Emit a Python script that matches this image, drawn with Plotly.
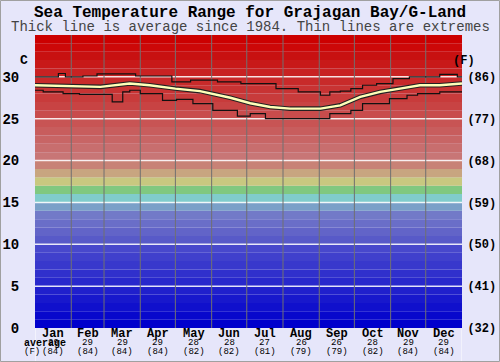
import plotly.graph_objects as go

# ---------------- data ----------------
months = ["Jan", "Feb", "Mar", "Apr", "May", "Jun", "Jul", "Aug", "Sep", "Oct", "Nov", "Dec"]
month_days = [31, 28, 31, 30, 31, 30, 31, 31, 30, 31, 30, 31]
avg_c = [29, 29, 29, 29, 28, 28, 27, 26, 26, 28, 29, 29]
avg_f = [84, 84, 84, 84, 82, 82, 81, 79, 79, 82, 84, 84]

avg_day = [0, 21, 56, 81, 98, 120, 141, 167, 184, 201, 218, 244, 261, 278, 295, 312, 329, 346, 365]
avg_temp = [29.0, 28.9, 28.8, 29.2, 29.0, 28.6, 28.3, 27.5, 26.85, 26.4, 26.2, 26.2, 26.6, 27.6, 28.2, 28.6, 29.0, 29.0, 29.2]

max_day = [0, 20, 26, 41, 53, 86, 117, 133, 156, 176, 206, 225, 244, 252, 261, 270, 280, 292, 306, 320, 346, 361, 365]
max_temp = [30.0, 30.4, 30.0, 30.1, 30.35, 30.1, 29.4, 29.6, 29.4, 29.2, 28.6, 28.2, 27.8, 28.2, 28.3, 28.6, 29.0, 29.2, 29.8, 30.0, 30.3, 30.0, 30.0]

min_day = [0, 7, 24, 38, 66, 75, 81, 90, 109, 121, 135, 152, 173, 184, 197, 252, 270, 280, 303, 318, 327, 346, 365]
min_temp = [28.4, 28.2, 28.0, 27.9, 27.0, 28.2, 28.4, 28.0, 27.2, 27.3, 26.8, 26.0, 25.3, 25.6, 25.0, 25.6, 26.0, 26.8, 27.4, 27.8, 28.0, 28.2, 28.2]

c_ticks = [0, 5, 10, 15, 20, 25, 30]
f_ticks = ["(32)", "(41)", "(50)", "(59)", "(68)", "(77)", "(86)"]

# ---------------- styles ----------------
MONO = "Liberation Mono, Courier New, monospace"
BG = "#e6e6fa"


def band_color(i):
    if i <= 9:
        v = i * 8
        return f"rgb({v},{v},204)"
    extra = {10: (88, 90, 200), 11: (98, 100, 200), 12: (106, 110, 200), 13: (114, 122, 200),
             14: (122, 160, 200), 15: (128, 204, 204), 16: (128, 200, 128), 17: (200, 200, 128),
             18: (200, 165, 128), 19: (200, 130, 118)}
    if i in extra:
        r, g, b = extra[i]
        return f"rgb({r},{g},{b})"
    g = round(118 * (34 - i) / 14)
    r = 200 if i < 33 else 204
    return f"rgb({r},{g},{g})"


fig = go.Figure()

shapes = []
for i in range(35):
    shapes.append(dict(type="rect", xref="x", yref="y", x0=0, x1=365, y0=i, y1=i + 1,
                       fillcolor=band_color(i), line=dict(width=0), layer="below"))
for t in c_ticks[1:]:
    shapes.append(dict(type="line", xref="x", yref="y", x0=0, x1=365, y0=t, y1=t,
                       line=dict(color="rgba(255,255,255,0.85)", width=1.5), layer="below"))
cum = 0
mids = []
for d in month_days:
    mids.append(cum + d / 2)
    cum += d
    if cum < 365:
        shapes.append(dict(type="line", xref="x", yref="y", x0=cum, x1=cum, y0=0, y1=35,
                           line=dict(color="#707070", width=1), layer="below"))
# table borders below plot
for xv in (0, 365):
    shapes.append(dict(type="line", xref="x", yref="paper", x0=xv, x1=xv, y0=0, y1=-0.12,
                       line=dict(color="white", width=1)))
# outer border
shapes.append(dict(type="rect", xref="paper", yref="paper", x0=-34.5 / 427, x1=464.5 / 427,
                   y0=-33.5 / 293, y1=327.5 / 293, line=dict(color="#a0a0a0", width=1)))

# extremes
fig.add_trace(go.Scatter(x=max_day, y=max_temp, mode="lines", line=dict(color="#111", width=1.2, shape="hv"),
                         hoverinfo="skip", showlegend=False))
fig.add_trace(go.Scatter(x=min_day, y=min_temp, mode="lines", line=dict(color="#111", width=1.2, shape="hv"),
                         hoverinfo="skip", showlegend=False))
# average thick line
fig.add_trace(go.Scatter(x=avg_day, y=avg_temp, mode="lines", line=dict(color="#222", width=4.6),
                         hoverinfo="skip", showlegend=False))
fig.add_trace(go.Scatter(x=avg_day, y=avg_temp, mode="lines", line=dict(color="#ffffb8", width=2.4),
                         hoverinfo="skip", showlegend=False))
# dummy trace for the right axis
fig.add_trace(go.Scatter(x=[0], y=[0], yaxis="y2", mode="markers", marker=dict(opacity=0),
                         hoverinfo="skip", showlegend=False))

annotations = []
for m, mid, c, f in zip(months, mids, avg_c, avg_f):
    annotations.append(dict(x=mid, y=0, xref="x", yref="paper", yshift=-6, text=f"<b>{m}</b>",
                            showarrow=False, font=dict(family=MONO, size=12, color="black"), yanchor="middle"))
    annotations.append(dict(x=mid, y=0, xref="x", yref="paper", yshift=-15, text=str(c),
                            showarrow=False, font=dict(family=MONO, size=9, color="black"), yanchor="middle"))
    annotations.append(dict(x=mid, y=0, xref="x", yref="paper", yshift=-24, text=f"({f})",
                            showarrow=False, font=dict(family=MONO, size=9, color="black"), yanchor="middle"))
annotations.append(dict(x=-13 / 427, y=0, xref="paper", yref="paper", yshift=-15, text="<b>average</b>",
                        showarrow=False, font=dict(family=MONO, size=10, color="black"), yanchor="middle"))
annotations.append(dict(x=-13 / 427, y=0, xref="paper", yref="paper", yshift=-24, text="(F)",
                        showarrow=False, font=dict(family=MONO, size=9, color="black"), yanchor="middle"))
annotations.append(dict(x=-17 / 427, y=31.9, xref="paper", yref="y", text="<b>C</b>",
                        showarrow=False, font=dict(family=MONO, size=13, color="black")))
annotations.append(dict(x=442 / 427, y=31.9, xref="paper", yref="y", text="<b>(F)</b>",
                        showarrow=False, font=dict(family=MONO, size=12, color="black")))
annotations.append(dict(x=215 / 427, y=(328 - 13) / 293, xref="paper", yref="paper",
                        text="<b>Sea Temperature Range for Grajagan Bay/G-Land</b>", showarrow=False,
                        font=dict(family=MONO, size=16, color="black"), yanchor="middle"))
annotations.append(dict(x=215 / 427, y=(328 - 27) / 293, xref="paper", yref="paper",
                        text="Thick line is average since 1984. Thin lines are extremes", showarrow=False,
                        font=dict(family=MONO, size=14, color="#444"), yanchor="middle"))

fig.update_layout(
    width=500, height=362,
    margin=dict(l=35, r=38, t=35, b=34, autoexpand=False),
    paper_bgcolor=BG, plot_bgcolor=BG,
    shapes=shapes, annotations=annotations,
    xaxis=dict(range=[0, 365], showgrid=False, zeroline=False, showticklabels=False, fixedrange=True,
               automargin=False),
    yaxis=dict(range=[0, 35], tickvals=c_ticks, showgrid=False, zeroline=False, automargin=False,
               ticks="outside", ticklen=12, tickcolor="rgba(0,0,0,0)",
               tickfont=dict(family=MONO, size=14, color="black", weight="bold")),
    yaxis2=dict(range=[0, 35], overlaying="y", side="right", tickvals=c_ticks, ticktext=f_ticks,
                automargin=False,
                showgrid=False, zeroline=False, ticks="outside", ticklen=2, tickcolor="rgba(0,0,0,0)",
                tickfont=dict(family=MONO, size=12, color="black", weight="bold")),
    showlegend=False,
)

fig.write_html("out.html", config={"displayModeBar": False},
               post_script="document.body.style.margin='0';document.body.style.overflow='hidden';")
